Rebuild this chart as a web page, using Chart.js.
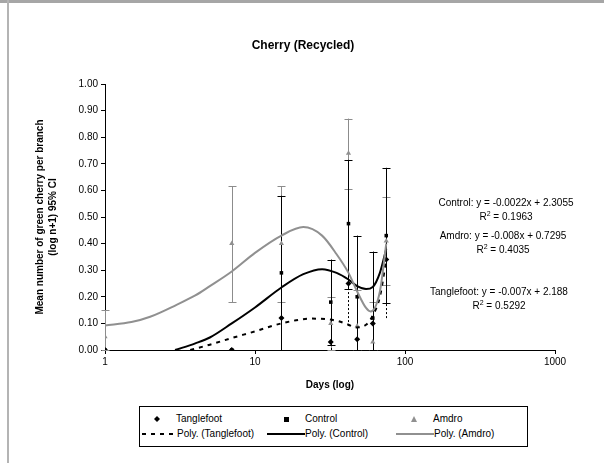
<!DOCTYPE html>
<html><head><meta charset="utf-8">
<script src="https://cdn.jsdelivr.net/npm/chart.js@4"></script>
<style>
html,body{margin:0;padding:0;background:#fff;}
#wrap{position:relative;width:604px;height:463px;overflow:hidden;font-family:"Liberation Sans",Arial,sans-serif;color:#000;}
#frameTop{position:absolute;left:0;top:0;width:604px;height:3px;background:#a6a6a6;}
#frameLeft{position:absolute;left:7px;top:0;width:2px;height:463px;background:#b4b4b4;}
canvas{position:absolute;left:0;top:0;}
#title{position:absolute;left:0;width:606px;top:38px;text-align:center;font-weight:bold;font-size:12px;}
.eq{position:absolute;font-size:10px;text-align:center;width:180px;line-height:14px;white-space:nowrap;}
.eq sup{font-size:7px;line-height:0;}
#legend{position:absolute;left:139px;top:406px;width:387px;height:39px;border:1px solid #000;font-size:10px;background:#fff;}
.li{position:absolute;white-space:nowrap;line-height:12px;}
.li svg{position:absolute;top:0;}
</style>
</head><body>
<div id="wrap">
<canvas id="c" width="604" height="463"></canvas>
<div id="frameTop"></div><div id="frameLeft"></div>
<div id="title">Cherry (Recycled)</div>
<div class="eq" style="left:416px;top:196px;">Control: y = -0.0022x + 2.3055<br>R<sup>2</sup> = 0.1963</div>
<div class="eq" style="left:413px;top:229px;">Amdro: y = -0.008x + 0.7295<br>R<sup>2</sup> = 0.4035</div>
<div class="eq" style="left:409px;top:285px;">Tanglefoot: y = -0.007x + 2.188<br>R<sup>2</sup> = 0.5292</div>
<div id="legend">
  <div class="li" style="left:13px;top:6px;"><svg width="8" height="12"><polygon points="4,3 7,6 4,9 1,6" fill="#000"/></svg><span style="margin-left:23px">Tanglefoot</span></div>
  <div class="li" style="left:142px;top:6px;"><svg width="8" height="12"><rect x="2" y="4" width="5" height="5" fill="#000"/></svg><span style="margin-left:23px">Control</span></div>
  <div class="li" style="left:270px;top:6px;"><svg width="8" height="12"><polygon points="4,3 7,9 1,9" fill="#909090"/></svg><span style="margin-left:23px">Amdro</span></div>
  <div class="li" style="left:1px;top:21px;"><svg width="36" height="12"><line x1="1" y1="6" x2="36" y2="6" stroke="#000" stroke-width="2" stroke-dasharray="4,5"/></svg><span style="margin-left:36px">Poly. (Tanglefoot)</span></div>
  <div class="li" style="left:127px;top:21px;"><svg width="38" height="12"><line x1="0" y1="6" x2="38" y2="6" stroke="#000" stroke-width="2"/></svg><span style="margin-left:38px">Poly. (Control)</span></div>
  <div class="li" style="left:256px;top:21px;"><svg width="38" height="12"><line x1="0" y1="6" x2="38" y2="6" stroke="#909090" stroke-width="2"/></svg><span style="margin-left:38px">Poly. (Amdro)</span></div>
</div>
</div>
<script>
// ---- data ----
const days = [1, 7, 15, 32, 42, 48, 61, 75];
const tanglefoot = [0, 0, 0.12, 0.03, 0.25, 0.04, 0.10, 0.34];
const tanglefootLow = [0, 0, 0, 0, 0.09, 0.04, 0.10, 0.12];
const tanglefootHigh = [0, 0, 0.12, 0.03, 0.25, 0.04, 0.10, 0.34];
const control = [0, 0, 0.29, 0.18, 0.475, 0.20, 0.12, 0.43];
const controlLow = [0, 0, 0, 0.02, 0.23, 0, 0, 0.175];
const controlHigh = [0, 0, 0.58, 0.34, 0.715, 0.43, 0.37, 0.685];
const amdro = [0.05, 0.40, 0.40, 0.10, 0.74, 0.09, 0.03, 0.41];
const amdroLow = [0, 0.18, 0.18, 0, 0.605, 0, 0, 0.245];
const amdroHigh = [0.15, 0.615, 0.615, 0.20, 0.87, 0.225, 0.18, 0.575];

// trendline curves
const amdroCurveX = [1, 1.5, 2, 3, 4, 5, 7, 10, 15, 21, 28, 35, 42, 48, 55, 59, 68, 75];
const amdroCurveY = [0.092, 0.105, 0.125, 0.170, 0.205, 0.240, 0.295, 0.365, 0.43, 0.462, 0.43, 0.36, 0.29, 0.22, 0.158, 0.145, 0.22, 0.40];
const controlCurveX = [2.93, 4, 5, 7, 10, 15, 21, 28, 35, 42, 48, 55, 61, 68, 75];
const controlCurveY = [0, 0.025, 0.047, 0.10, 0.16, 0.235, 0.285, 0.304, 0.29, 0.265, 0.24, 0.229, 0.237, 0.29, 0.38];
const tangleCurveX = [3.7, 5, 7, 10, 15, 24, 35, 42, 47, 55, 61, 68, 75];
const tangleCurveY = [0, 0.02, 0.045, 0.07, 0.10, 0.118, 0.11, 0.095, 0.085, 0.095, 0.13, 0.20, 0.34];

const xTicks = [1, 10, 100, 1000];

const pts = (xs, ys) => xs.map((x, i) => ({x: x, y: ys[i]}));

const errorSpecs = [
  {low: amdroLow, high: amdroHigh, color: '#8c8c8c', dash: [], caps: true},
  {low: controlLow, high: controlHigh, color: '#000', dash: [], caps: true},
  {low: tanglefootLow, high: tanglefootHigh, color: '#000', dash: [2, 2], caps: false}
];

const errorBarPlugin = {
  id: 'errorBars',
  beforeDatasetsDraw(chart) {
    const ctx = chart.ctx, xs = chart.scales.x, ys = chart.scales.y;
    errorSpecs.forEach(spec => {
      ctx.save();
      ctx.strokeStyle = spec.color;
      ctx.lineWidth = 1;
      days.forEach((d, i) => {
        const lo = spec.low[i], hi = spec.high[i];
        if (lo == null || hi == null || lo === hi) return;
        const px = Math.round(xs.getPixelForValue(d)) + 0.5;
        const pl = ys.getPixelForValue(lo), ph = ys.getPixelForValue(hi);
        ctx.setLineDash(spec.dash);
        ctx.beginPath(); ctx.moveTo(px, pl); ctx.lineTo(px, ph); ctx.stroke();
        if (spec.caps) {
          ctx.setLineDash([]);
          ctx.beginPath();
          ctx.moveTo(px - 4, Math.round(ph) + 0.5); ctx.lineTo(px + 4, Math.round(ph) + 0.5);
          ctx.moveTo(px - 4, Math.round(pl) + 0.5); ctx.lineTo(px + 4, Math.round(pl) + 0.5);
          ctx.stroke();
        }
      });
      ctx.restore();
    });
  }
};

const fontFamily = '"Liberation Sans", Arial, sans-serif';

new Chart(document.getElementById('c'), {
  type: 'scatter',
  data: {
    datasets: [
      {label: 'Poly. (Amdro)', data: pts(amdroCurveX, amdroCurveY), showLine: true, cubicInterpolationMode: 'monotone', borderColor: '#909090', borderWidth: 2, pointRadius: 0},
      {label: 'Poly. (Control)', data: pts(controlCurveX, controlCurveY), showLine: true, cubicInterpolationMode: 'monotone', borderColor: '#000', borderWidth: 2, pointRadius: 0},
      {label: 'Poly. (Tanglefoot)', data: pts(tangleCurveX, tangleCurveY), showLine: true, cubicInterpolationMode: 'monotone', borderColor: '#000', borderWidth: 2, borderDash: [4, 5], pointRadius: 0},
      {label: 'Amdro', data: pts(days, amdro), pointStyle: 'triangle', pointRadius: 3, backgroundColor: '#909090', borderColor: '#909090', borderWidth: 0},
      {label: 'Control', data: pts(days, control), pointStyle: 'rect', pointRadius: 2.5, backgroundColor: '#000', borderColor: '#000', borderWidth: 0},
      {label: 'Tanglefoot', data: pts(days, tanglefoot), pointStyle: 'rectRot', pointRadius: 3, backgroundColor: '#000', borderColor: '#000', borderWidth: 0}
    ]
  },
  options: {
    responsive: false,
    animation: false,
    layout: {padding: {left: 30, right: 49, top: 84, bottom: 68}},
    plugins: {legend: {display: false}, title: {display: false}, tooltip: {enabled: false}},
    scales: {
      x: {
        type: 'logarithmic', min: 1, max: 1000,
        afterBuildTicks: s => { s.ticks = xTicks.map(v => ({value: v})); },
        afterFit: s => { s.height = 45; },
        ticks: {color: '#000', font: {family: fontFamily, size: 10}, padding: 2, maxRotation: 0, callback: v => String(v)},
        grid: {display: true, drawOnChartArea: false, drawTicks: true, tickLength: 4, color: '#000'},
        border: {display: true, color: '#000', width: 1},
        title: {display: true, text: 'Days (log)', color: '#000', font: {family: fontFamily, size: 10, weight: 'bold'}, padding: {top: 4, bottom: 4}}
      },
      y: {
        min: 0, max: 1,
        afterFit: s => { s.width = 75; },
        ticks: {stepSize: 0.1, color: '#000', font: {family: fontFamily, size: 10}, padding: 3, callback: v => v.toFixed(2)},
        grid: {display: true, drawOnChartArea: false, drawTicks: true, tickLength: 4, color: '#000'},
        border: {display: true, color: '#000', width: 1},
        title: {display: true, text: ['Mean number of green cherry per branch', '(log n+1) 95% CI'], color: '#000', font: {family: fontFamily, size: 10, weight: 'bold', lineHeight: 1.3}, padding: {top: 4, bottom: 4}}
      }
    }
  },
  plugins: [errorBarPlugin]
});
</script>
</body></html>
